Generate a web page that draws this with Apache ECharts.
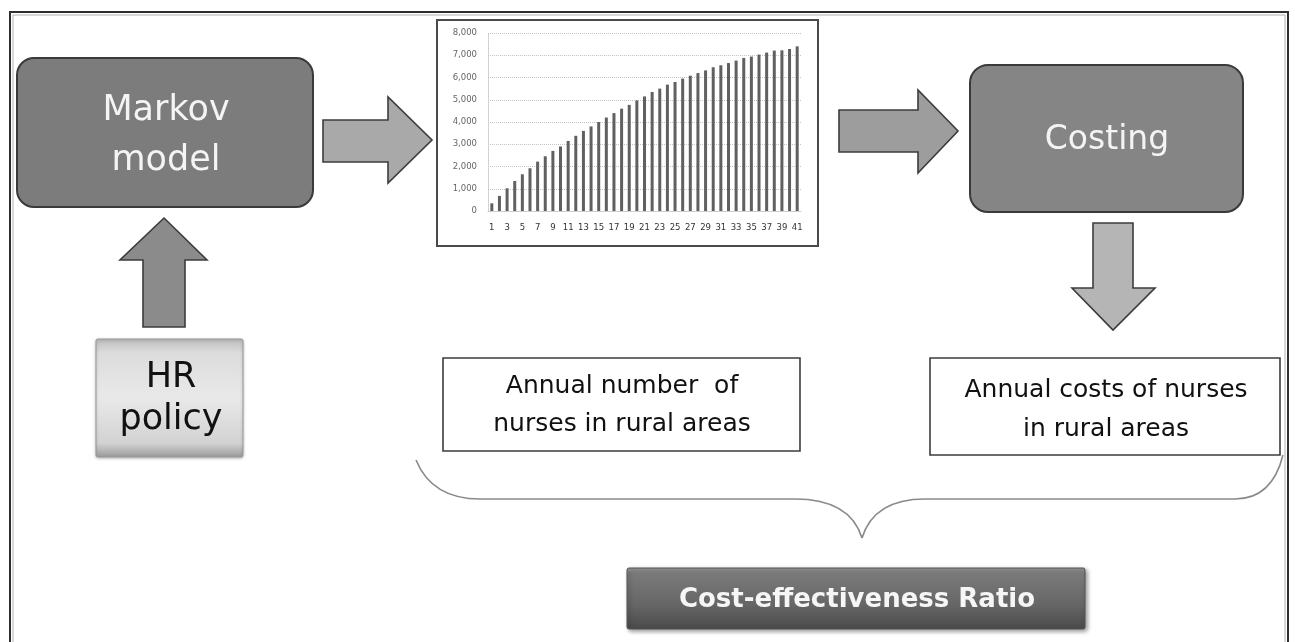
<!DOCTYPE html>
<html>
<head>
<meta charset="utf-8">
<script src="https://cdn.jsdelivr.net/npm/echarts@6/dist/echarts.min.js"></script>
<style>
html,body{margin:0;padding:0;background:#fff;}
#main{width:1295px;height:642px;}
</style>
</head>
<body>
<div id="main"></div>
<script>
// Embedded bar chart data: annual number of nurses in rural areas
const years = ['1','2','3','4','5','6','7','8','9','10','11','12','13','14','15','16','17','18','19','20','21','22','23','24','25','26','27','28','29','30','31','32','33','34','35','36','37','38','39','40','41'];
const nurses = [345,680,1020,1350,1650,1920,2220,2460,2700,2900,3150,3380,3600,3800,4000,4200,4400,4600,4770,4970,5150,5350,5500,5680,5800,5950,6080,6200,6320,6460,6550,6650,6760,6880,6940,7030,7120,7210,7220,7280,7400];
const yTicks = ['0','1,000','2,000','3,000','4,000','5,000','6,000','7,000','8,000'];

// Flow-diagram texts
const markovText = ['Markov', 'model'];
const hrText = ['HR', 'policy'];
const costingText = 'Costing';
const numberText = ['Annual number  of', 'nurses in rural areas'];
const costsText = ['Annual costs of nurses', 'in rural areas'];
const cerText = 'Cost-effectiveness Ratio';

const FONT = '"DejaVu Sans", sans-serif';

function txt(text, x, y, size, fill, weight) {
  return {
    type: 'text', z: 10,
    style: { text: text, x: x, y: y, fill: fill, textAlign: 'center', textVerticalAlign: 'middle',
      font: (weight || 'normal') + ' ' + size + 'px ' + FONT }
  };
}
function poly(points, fill) {
  return { type: 'polygon', z: 5, shape: { points: points }, style: { fill: fill, stroke: '#3c3c3c', lineWidth: 1.6 } };
}
const braceStyle = { stroke: '#8a8a8a', lineWidth: 1.6, fill: null };

const graphics = [
  // outer frame
  { type: 'rect', z: 1, shape: { x: 10, y: 12, width: 1278, height: 660 }, style: { fill: 'none', stroke: '#2e2e2e', lineWidth: 2 } },
  { type: 'rect', z: 1, shape: { x: 13, y: 15, width: 1272, height: 660 }, style: { fill: 'none', stroke: '#b0b0b0', lineWidth: 1 } },
  // embedded chart frame
  { type: 'rect', z: 1, shape: { x: 437, y: 20, width: 381, height: 226 }, style: { fill: 'none', stroke: '#4a4a4a', lineWidth: 2 } },
  // Markov box
  { type: 'rect', z: 5, shape: { x: 17, y: 58, width: 296, height: 149, r: 17 }, style: { fill: '#7c7c7c', stroke: '#3a3a3a', lineWidth: 2 } },
  txt(markovText[0], 166, 111, 35, '#f4f4f4'),
  txt(markovText[1], 166, 161, 35, '#f4f4f4'),
  // arrow Markov -> chart
  poly([[323,120],[388,120],[388,97],[432,140],[388,183],[388,162],[323,162]], '#a9a9a9'),
  // up arrow HR -> Markov
  poly([[164,218],[207,260],[185,260],[185,327],[143,327],[143,260],[120,260]], '#8b8b8b'),
  // HR policy box
  { type: 'rect', z: 5, shape: { x: 96, y: 339, width: 147, height: 118, r: 2 },
    style: { fill: { type: 'linear', x: 0, y: 0, x2: 0, y2: 1, colorStops: [
      { offset: 0, color: '#bdbdbd' }, { offset: 0.12, color: '#dcdcdc' }, { offset: 0.5, color: '#e9e9e9' },
      { offset: 0.88, color: '#d2d2d2' }, { offset: 1, color: '#9a9a9a' } ] },
      stroke: '#9a9a9a', lineWidth: 1, shadowColor: 'rgba(0,0,0,0.25)', shadowBlur: 3, shadowOffsetY: 1 } },
  txt(hrText[0], 171, 378, 35, '#111'),
  txt(hrText[1], 171, 420, 35, '#111'),
  // arrow chart -> Costing
  poly([[839,110],[918,110],[918,90],[958,131],[918,173],[918,152],[839,152]], '#9d9d9d'),
  // Costing box
  { type: 'rect', z: 5, shape: { x: 970, y: 65, width: 273, height: 147, r: 18 }, style: { fill: '#858585', stroke: '#3a3a3a', lineWidth: 2 } },
  txt(costingText, 1107, 140, 33, '#f4f4f4'),
  // down arrow
  poly([[1093,223],[1133,223],[1133,288],[1155,288],[1113,330],[1072,288],[1093,288]], '#b5b5b5'),
  // Annual number box
  { type: 'rect', z: 5, shape: { x: 443, y: 358, width: 357, height: 93 }, style: { fill: '#fff', stroke: '#3c3c3c', lineWidth: 1.6 } },
  txt(numberText[0], 622, 386, 25, '#111'),
  txt(numberText[1], 622, 424, 25, '#111'),
  // Annual costs box
  { type: 'rect', z: 5, shape: { x: 930, y: 358, width: 350, height: 97 }, style: { fill: '#fff', stroke: '#3c3c3c', lineWidth: 1.6 } },
  txt(costsText[0], 1106, 390, 25, '#111'),
  txt(costsText[1], 1106, 429, 25, '#111'),
  // brace
  { type: 'bezierCurve', z: 4, shape: { x1: 416, y1: 460, cpx1: 432, cpy1: 499, x2: 480, y2: 499 }, style: braceStyle },
  { type: 'line', z: 4, shape: { x1: 480, y1: 499, x2: 795, y2: 499 }, style: braceStyle },
  { type: 'bezierCurve', z: 4, shape: { x1: 795, y1: 499, cpx1: 850, cpy1: 499, x2: 862, y2: 538 }, style: braceStyle },
  { type: 'bezierCurve', z: 4, shape: { x1: 862, y1: 538, cpx1: 874, cpy1: 499, x2: 925, y2: 499 }, style: braceStyle },
  { type: 'line', z: 4, shape: { x1: 925, y1: 499, x2: 1235, y2: 499 }, style: braceStyle },
  { type: 'bezierCurve', z: 4, shape: { x1: 1235, y1: 499, cpx1: 1272, cpy1: 499, x2: 1283, y2: 455 }, style: braceStyle },
  // Cost-effectiveness box
  { type: 'rect', z: 5, shape: { x: 627, y: 568, width: 458, height: 61, r: 2 },
    style: { fill: { type: 'linear', x: 0, y: 0, x2: 0, y2: 1, colorStops: [
      { offset: 0, color: '#9a9a9a' }, { offset: 0.1, color: '#7a7a7a' }, { offset: 0.6, color: '#666' }, { offset: 1, color: '#4a4a4a' } ] },
      stroke: '#555', lineWidth: 1, shadowColor: 'rgba(0,0,0,0.4)', shadowBlur: 4, shadowOffsetX: 2, shadowOffsetY: 2 } },
  txt(cerText, 857, 600, 26, '#f6f6f6', 'bold')
];

const chart = echarts.init(document.getElementById('main'), null, { renderer: 'canvas' });
chart.setOption({
  animation: false,
  backgroundColor: '#fff',
  grid: { left: 488, right: 494, top: 33, bottom: 431, containLabel: false },
  xAxis: {
    type: 'category', data: years, boundaryGap: true,
    axisLine: { show: true, lineStyle: { color: '#cfcfcf', width: 1 } },
    axisTick: { show: false },
    axisLabel: { interval: 1, color: '#333', fontSize: 8.5, margin: 12, fontFamily: FONT }
  },
  yAxis: {
    type: 'value', min: 0, max: 8000, interval: 1000,
    axisLine: { show: true, lineStyle: { color: '#c8c8c8', type: 'dotted' } },
    axisTick: { show: false },
    splitLine: { show: true, lineStyle: { color: '#c4c4c4', type: 'dotted' } },
    axisLabel: { color: '#666', fontSize: 8.5, margin: 11, fontFamily: FONT,
      formatter: function (v) { return yTicks[Math.round(v / 1000)]; } }
  },
  series: [{
    type: 'bar', data: nurses, barWidth: 3,
    itemStyle: { color: '#606060' }
  }],
  graphic: { elements: graphics }
});
</script>
</body>
</html>
